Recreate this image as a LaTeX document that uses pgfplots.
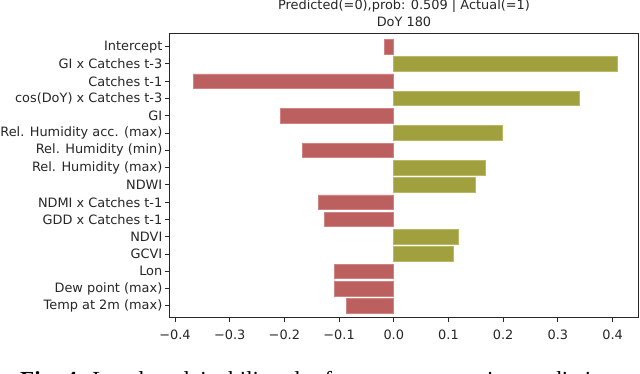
\documentclass[border=0pt]{standalone}
\usepackage{fontspec}
\setmainfont{DejaVu Sans}
\newfontfamily\capfont{Liberation Serif}
\usepackage{pgfplots}
\pgfplotsset{compat=1.18}

\definecolor{negbar}{RGB}{188,95,95}
\definecolor{negedge}{RGB}{210,130,130}
\definecolor{posbar}{RGB}{161,160,63}
\definecolor{posedge}{RGB}{185,184,100}
\definecolor{spine}{RGB}{40,40,40}

\begin{document}
\begin{tikzpicture}[x=1pt,y=1pt]
\begin{axis}[
    at={(170pt,56pt)}, anchor=south west,
    scale only axis,
    width=468pt, height=284pt,
    xmin=-0.4091, xmax=0.4465,
    ymin=-0.79, ymax=15.64,
    y dir=reverse,
    axis line style={spine, line width=1pt},
    tick style={spine, line width=0.9pt},
    tick align=outside,
    major tick length=5pt,
    xtick pos=bottom, ytick pos=left,
    xtick={-0.4,-0.3,-0.2,-0.1,0,0.1,0.2,0.3,0.4},
    xticklabels={−0.4,−0.3,−0.2,−0.1,0.0,0.1,0.2,0.3,0.4},
    ytick={0,...,15},
    yticklabels={Intercept, GI x Catches t-3, Catches t-1, cos(DoY) x Catches t-3,
        GI, Rel. Humidity acc. (max), Rel. Humidity (min), Rel. Humidity (max),
        NDWI, NDMI x Catches t-1, GDD x Catches t-1, NDVI, GCVI, Lon,
        Dew point (max), Temp at 2m (max)},
    tick label style={font=\fontsize{12.9}{15}\selectfont, text=black!85},
    xticklabel style={yshift=-4pt},
    yticklabel style={inner xsep=2.5pt},
    xbar, bar width=14.6pt,
]
% negative contributions
\addplot[xbar, bar shift=0pt, fill=negbar, draw=negedge, line width=0.8pt] coordinates {
    (-0.017,0)
    (-0.367,2)
    (-0.207,4)
    (-0.167,6)
    (-0.138,9)
    (-0.127,10)
    (-0.108,13)
    (-0.108,14)
    (-0.0865,15)
};
% positive contributions
\addplot[xbar, bar shift=0pt, fill=posbar, draw=posedge, line width=0.8pt] coordinates {
    (0.408,1)
    (0.339,3)
    (0.199,5)
    (0.168,7)
    (0.149,8)
    (0.119,11)
    (0.109,12)
};
\end{axis}
\node[anchor=base, font=\fontsize{12.9}{15}\selectfont, text=black!85] at (404,363) {Predicted(=0),prob: 0.509 | Actual(=1)};
\node[anchor=base, font=\fontsize{12.9}{15}\selectfont, text=black!85] at (404,346) {DoY 180};
\node[anchor=base west, inner sep=0pt, font=\capfont\fontsize{23}{26}\selectfont] at (20,-14)
    {\textbf{Fig. 4:} Local explainability plot for a wrong negative prediction};
\pgfresetboundingbox
\useasboundingbox (0,0) rectangle (640,373);
\end{tikzpicture}
\end{document}
